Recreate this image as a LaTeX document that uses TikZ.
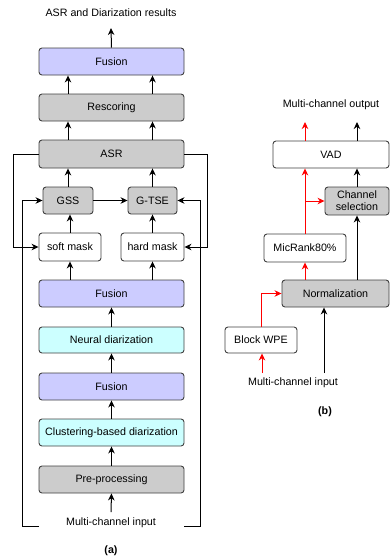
\documentclass[tikz,border=0pt]{standalone}
\usepackage{fontspec}
\setmainfont{Liberation Sans}
\usetikzlibrary{arrows.meta}
\definecolor{lav}{HTML}{CCCCFF}
\definecolor{gry}{HTML}{CCCCCC}
\definecolor{cyn}{HTML}{CCFFFF}
\definecolor{redl}{HTML}{FF0000}
\tikzset{
  box/.style={draw=black!75, line width=0.9pt, rounded corners=3pt, inner sep=0pt, align=center,
    font=\fontsize{10.7}{12.5}\selectfont},
  fusionbox/.style={box, fill=lav},
  graybox/.style={box, fill=gry},
  cyanbox/.style={box, fill=cyn},
  whitebox/.style={box, fill=white},
  lbl/.style={inner sep=0pt, font=\fontsize{10.7}{12.5}\selectfont},
  arr/.style={color=black, line width=1pt, -{Stealth[length=7pt,width=6.5pt,inset=2.2pt]}},
  rarr/.style={color=redl, line width=1pt, -{Stealth[length=7pt,width=6.5pt,inset=2.2pt]}},
}
\begin{document}
\begin{tikzpicture}[x=1pt,y=-1pt]
\useasboundingbox (0,0) rectangle (390,558);
% ---------- (a) ----------
\node[lbl] (res) at (111,13) {ASR and Diarization results};
\node[fusionbox, minimum width=145pt, minimum height=27pt] (fus1) at (111.5,61.5) {Fusion};
\node[graybox, minimum width=145pt, minimum height=27pt] (resc) at (111.5,107.5) {Rescoring};
\node[graybox, minimum width=145pt, minimum height=28pt] (asr) at (111.5,154) {ASR};
\node[graybox, minimum width=50pt, minimum height=27pt] (gss) at (68,200.5) {GSS};
\node[graybox, minimum width=49pt, minimum height=27pt] (gtse) at (152.5,200.5) {G-TSE};
\node[whitebox, minimum width=62pt, minimum height=28pt] (soft) at (70,247) {soft mask};
\node[whitebox, minimum width=63pt, minimum height=28pt] (hard) at (152.5,247) {hard mask};
\node[fusionbox, minimum width=145pt, minimum height=27pt] (fus2) at (111.5,293.5) {Fusion};
\node[cyanbox, minimum width=145pt, minimum height=26pt] (neur) at (111.5,340) {Neural diarization};
\node[fusionbox, minimum width=145pt, minimum height=27pt] (fus3) at (111.5,386.5) {Fusion};
\node[cyanbox, minimum width=145pt, minimum height=27pt] (clus) at (111.5,432.5) {Clustering-based diarization};
\node[graybox, minimum width=145pt, minimum height=27pt] (pre) at (111.5,479.5) {Pre-processing};
\node[lbl] (inA) at (111,523) {Multi-channel input};
\node[lbl, font=\bfseries\fontsize{10.7}{12.5}\selectfont] (capA) at (111,551) {(a)};
\coordinate (outA) at (111,28);
\coordinate (inAup) at (111,512);
\coordinate (inAL) at (39,526);
\coordinate (inAR) at (184,526);

\draw[arr] (fus1.north) -- (outA);
\draw[arr] (resc.north -| gss.center) -- (fus1.south -| gss.center);
\draw[arr] (resc.north -| gtse.center) -- (fus1.south -| gtse.center);
\draw[arr] (asr.north -| gss.center) -- (resc.south -| gss.center);
\draw[arr] (asr.north -| gtse.center) -- (resc.south -| gtse.center);
\draw[arr] (gss.north) -- (asr.south -| gss.north);
\draw[arr] (gtse.north) -- (asr.south -| gtse.north);
\draw[arr] (gss.east) -- (gtse.west);
\draw[arr] (soft.north) -- (gss.south -| soft.north);
\draw[arr] (hard.north) -- (gtse.south -| hard.north);
\draw[arr] (fus2.north -| soft.north) -- (soft.south);
\draw[arr] (fus2.north -| hard.north) -- (hard.south);
\draw[arr] (neur.north) -- (fus2.south);
\draw[arr] (fus3.north) -- (neur.south);
\draw[arr] (clus.north) -- (fus3.south);
\draw[arr] (pre.north) -- (clus.south);
\draw[arr] (inAup) -- (pre.south);
\draw[arr] (asr.west) -- ++(-25,0) |- (soft.west);
\draw[arr] (asr.east) -- ++(23,0) |- (hard.east);
\draw[arr] (inAL) -- (22,526) |- (gss.west);
\draw[arr] (inAR) -- (200,526) |- (gtse.east);

% ---------- (b) ----------
\node[lbl] (outBt) at (331,105) {Multi-channel output};
\node[whitebox, minimum width=116pt, minimum height=27pt] (vad) at (331,154.5) {VAD};
\node[graybox, minimum width=64pt, minimum height=28pt, font=\fontsize{10.7}{12}\selectfont] (chs) at (357,201) {Channel\\selection};
\node[whitebox, minimum width=82pt, minimum height=28pt] (mic) at (305,248) {MicRank80\%};
\node[graybox, minimum width=107pt, minimum height=27pt] (norm) at (335.5,293.5) {Normalization};
\node[whitebox, minimum width=72pt, minimum height=26pt] (wpe) at (261,340) {Block WPE};
\node[lbl] (inB) at (293,383) {Multi-channel input};
\node[lbl, font=\bfseries\fontsize{10.7}{12.5}\selectfont] (capB) at (325,412) {(b)};
\coordinate (outR) at (305,122);
\coordinate (outK) at (357,122);
\coordinate (inBR) at (262,373);
\coordinate (inBK) at (324,373);
\coordinate (brR) at (305,201);

\draw[rarr] (vad.north -| outR) -- (outR);
\draw[arr] (vad.north -| outK) -- (outK);
\draw[rarr] (mic.north) -- (vad.south -| mic.north);
\draw[rarr] (brR) -- (chs.west);
\draw[arr] (chs.north) -- (vad.south -| chs.north);
\draw[arr] (norm.north -| chs.south) -- (chs.south);
\draw[rarr] (norm.north -| mic.south) -- (mic.south);
\draw[rarr] (wpe.north) |- (norm.west);
\draw[rarr] (inBR) -- (wpe.south -| inBR);
\draw[arr] (inBK) -- (norm.south -| inBK);
\end{tikzpicture}
\end{document}
